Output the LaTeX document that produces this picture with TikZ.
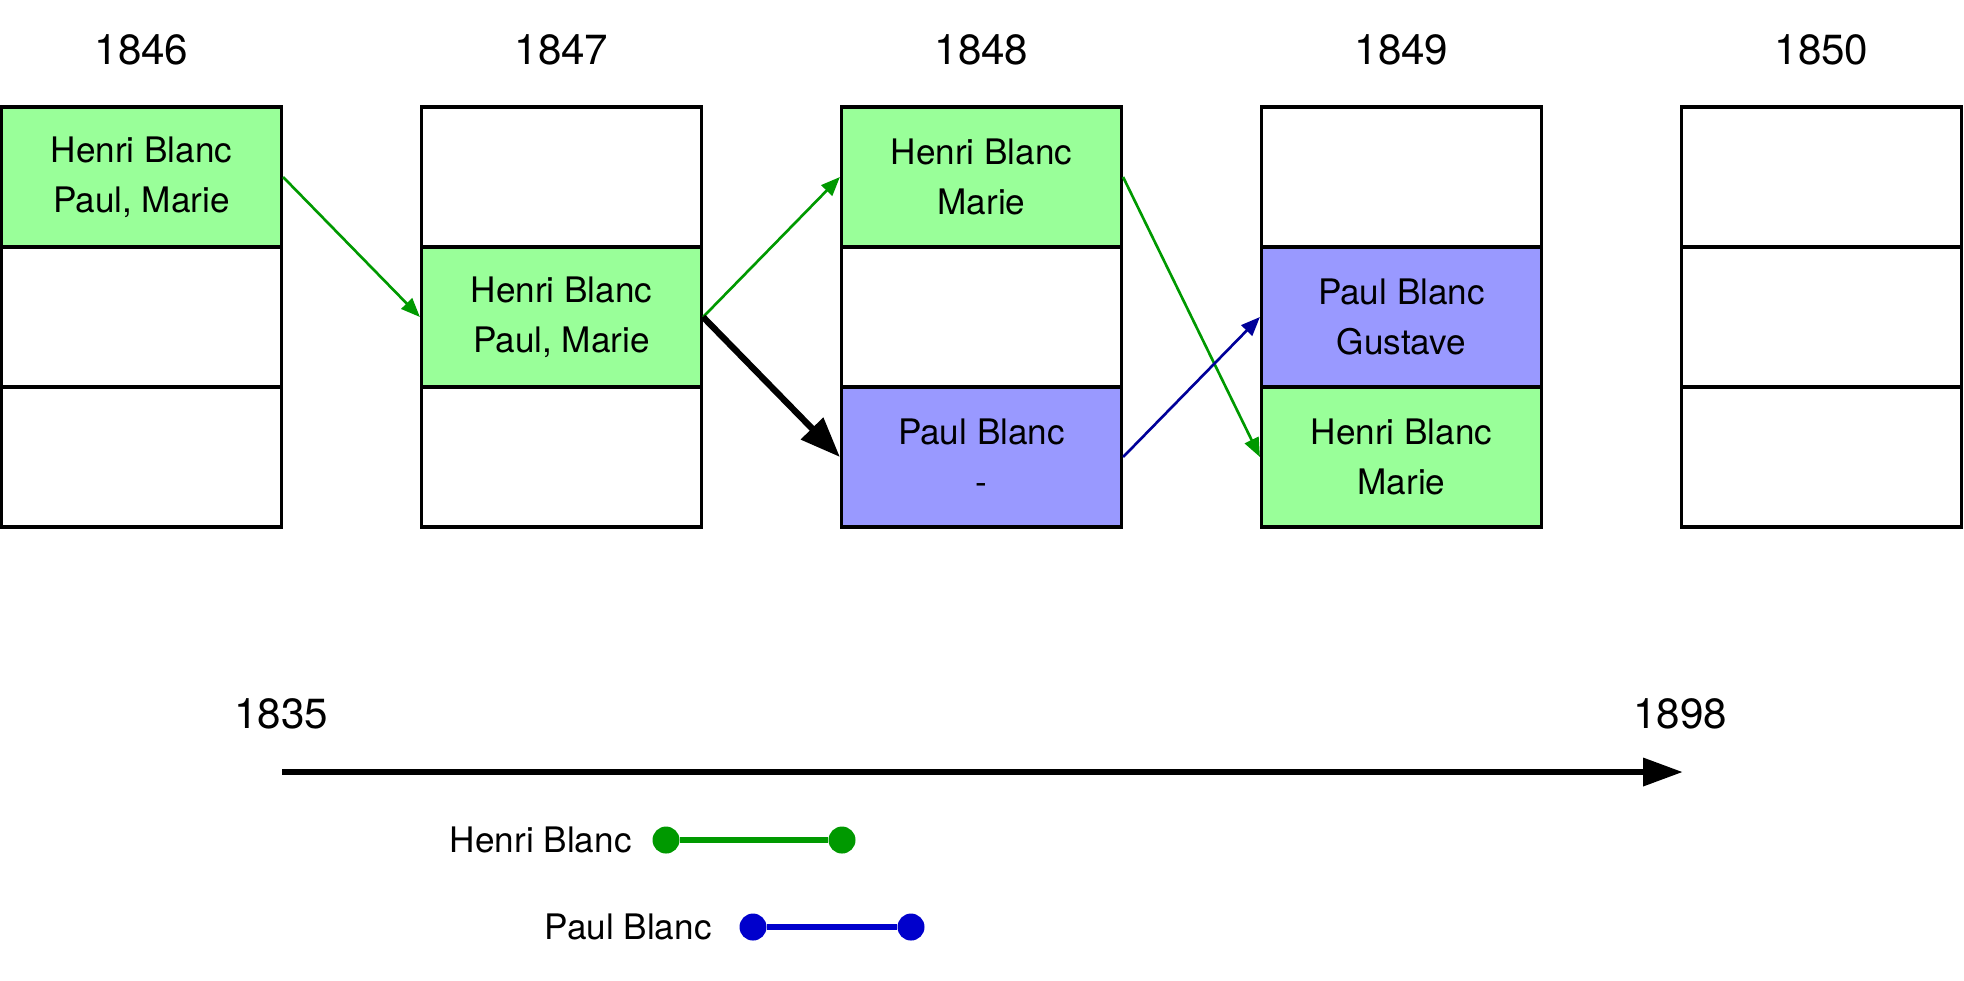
\documentclass[tikz,border=0pt]{standalone}
\usepackage{fontspec}
\setmainfont{TeX Gyre Heros}
\usetikzlibrary{arrows.meta}

\definecolor{henrifill}{HTML}{99FF99}
\definecolor{paulfill}{HTML}{9999FF}
\definecolor{henriline}{HTML}{009900}
\definecolor{paulline}{HTML}{000099}
\definecolor{paullife}{HTML}{0000CC}

\begin{document}
\begin{tikzpicture}[font=\fontsize{10}{14.2}\selectfont,
  cell/.style={draw, line width=0.9pt, fill=white, minimum width=2.8cm,
    minimum height=1.4cm, inner sep=0pt, align=center},
  henri/.style={cell, fill=henrifill},
  paul/.style={cell, fill=paulfill},
  yearlabel/.style={font=\fontsize{12}{14}\selectfont},
  link/.style={-{Triangle[length=0.19cm,width=0.15cm]}, line width=0.75pt},
  dot/.style={circle, fill=#1, inner sep=0pt, minimum size=0.27cm}]
  \useasboundingbox (0,0) rectangle (19.64,-9.80);
  % years
  \foreach \x/\yr in {1.415/1846,5.615/1847,9.815/1848,14.015/1849,18.215/1850}
    \node[yearlabel] (y\yr) at (\x,-0.50) {\yr};
  % 1846
  \node[henri] (c1a) at (1.415,-1.77) {Henri Blanc\\Paul, Marie};
  \node[cell] (c1b) at (1.415,-3.17) {};
  \node[cell] (c1c) at (1.415,-4.57) {};
  % 1847
  \node[cell] (c2a) at (5.615,-1.77) {};
  \node[henri] (c2b) at (5.615,-3.17) {Henri Blanc\\Paul, Marie};
  \node[cell] (c2c) at (5.615,-4.57) {};
  % 1848
  \node[henri] (c3a) at (9.815,-1.77) {Henri Blanc\\Marie};
  \node[cell] (c3b) at (9.815,-3.17) {};
  \node[paul] (c3c) at (9.815,-4.57) {Paul Blanc\\-};
  % 1849
  \node[cell] (c4a) at (14.015,-1.77) {};
  \node[paul] (c4b) at (14.015,-3.17) {Paul Blanc\\Gustave};
  \node[henri] (c4c) at (14.015,-4.57) {Henri Blanc\\Marie};
  % 1850
  \node[cell] (c5a) at (18.215,-1.77) {};
  \node[cell] (c5b) at (18.215,-3.17) {};
  \node[cell] (c5c) at (18.215,-4.57) {};
  % links between years
  \draw[link, henriline] (c1a.east) -- (c2b.west);
  \draw[link, henriline] (c2b.east) -- (c3a.west);
  \draw[-{Triangle[length=0.40cm,width=0.30cm]}, line width=1.8pt] (c2b.east) -- (c3c.west);
  \draw[link, henriline] (c3a.east) -- (c4c.west);
  \draw[link, paulline] (c3c.east) -- (c4b.west);
  % time axis
  \node[yearlabel] (t0) at (2.81,-7.14) {1835};
  \node[yearlabel] (t1) at (16.80,-7.14) {1898};
  \coordinate (a0) at (2.82,-7.72);
  \coordinate (a1) at (16.83,-7.72);
  \draw[-{Triangle[length=0.40cm,width=0.27cm]}, line width=1.9pt] (a0) -- (a1);
  % lifetimes
  \node[anchor=east] (hname) at (6.44,-8.40) {Henri Blanc};
  \node[dot=henriline] (hs) at (6.66,-8.40) {};
  \node[dot=henriline] (he) at (8.42,-8.40) {};
  \draw[henriline, line width=1.9pt] (hs) -- (he);
  \node[anchor=east] (pname) at (7.24,-9.27) {Paul Blanc};
  \node[dot=paullife] (ps) at (7.53,-9.27) {};
  \node[dot=paullife] (pe) at (9.11,-9.27) {};
  \draw[paullife, line width=1.9pt] (ps) -- (pe);
\end{tikzpicture}
\end{document}
